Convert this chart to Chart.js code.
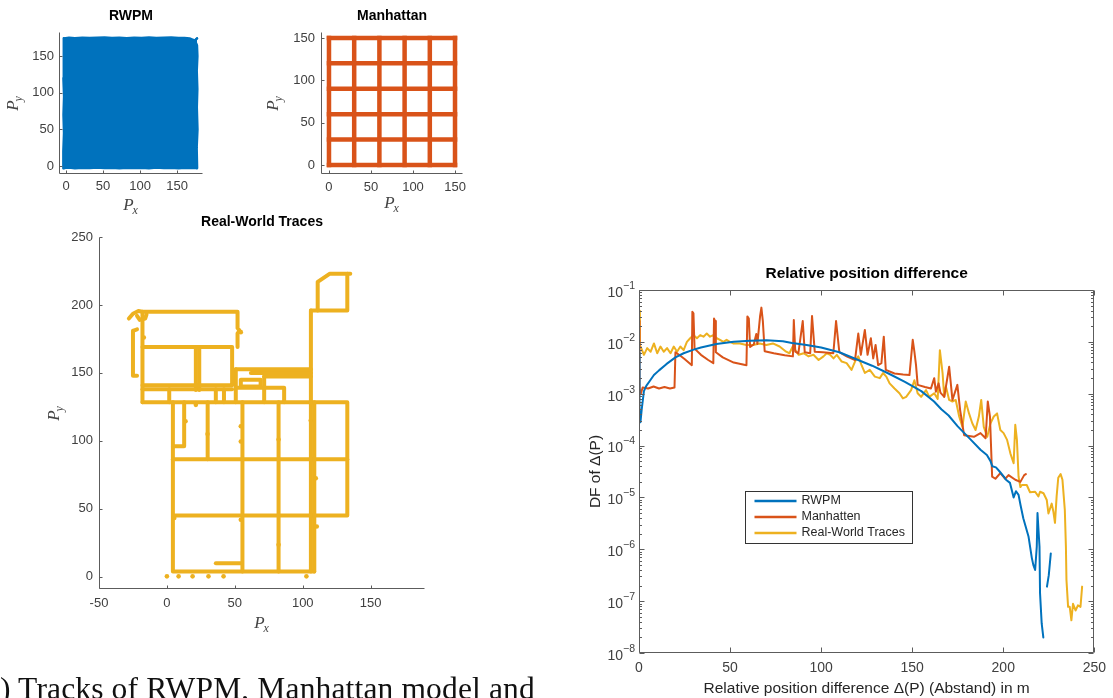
<!DOCTYPE html>
<html>
<head>
<meta charset="utf-8">
<script src="https://cdn.jsdelivr.net/npm/chart.js@4.4.1/dist/chart.umd.min.js"></script>
<style>
  html, body { margin: 0; padding: 0; background: #fff; }
  body { position: relative; width: 1113px; height: 698px; overflow: hidden; }
  canvas { position: absolute; left: 0; top: 0; }
  #cap { position: absolute; left: 0; top: 673px; font-family: "Liberation Serif", "DejaVu Serif", serif;
         font-size: 31.5px; line-height: 31px; letter-spacing: 0.15px; white-space: nowrap; color: #111; }
  #cap .lead { position: absolute; right: 100%; }
</style>
</head>
<body>
<canvas id="rwpm" width="1113" height="698"></canvas>
<canvas id="manhattan" width="1113" height="698"></canvas>
<canvas id="traces" width="1113" height="698"></canvas>
<canvas id="df" width="1113" height="698"></canvas>
<div id="cap"><span class="lead">(a</span>) Tracks of RWPM, Manhattan model and</div>
<script>
// ---------- colours ----------
const BLUE = '#0072BD', ORANGE = '#D95319', GOLD = '#EDB120';
const AXIS_COLOR = '#5c5c5c', LABEL_COLOR = '#404040';

// ---------- RWPM footprint (outline of the covered area) ----------
const rwpmEdgeX   = [-3, 4, 12, 22, 32, 42, 52, 62, 72, 82, 92, 102, 112, 122, 132, 142, 152, 160, 167, 171, 174, 177];
const rwpmTopY    = [174.6, 175.4, 174.8, 175.6, 175.1, 175.5, 175.9, 175.2, 175.6, 174.9, 175.4, 175.2, 175.8, 175.0, 175.4, 175.7, 175.0, 175.3, 174.5, 173.0, 171.5, 174.4];
const rwpmBottomY = [-3.0, -2.5, -3.4, -2.8, -3.2, -2.6, -3.3, -2.9, -3.5, -2.7, -3.2, -2.9, -3.4, -2.6, -3.3, -2.8, -3.4, -2.9, -3.1, -2.7, -3.2, -3.0];
const rwpmLeftEdge  = [[-3, -3], [-3.6, 20], [-2.7, 45], [-3.4, 70], [-2.6, 95], [-3.5, 120], [-2.8, 150], [-3.2, 174.6]];
const rwpmRightEdge = [[177, -3], [176.4, 25], [177.5, 50], [176.6, 80], [177.3, 105], [176.5, 130], [177.4, 150], [176.8, 165], [174, 171.5], [177, 174.4]];
const rwpmTicks = [0, 50, 100, 150];

// ---------- Manhattan street grid ----------
const manhattanStreets = [0, 30, 60, 90, 120, 150];
const manhattanTicks = [0, 50, 100, 150];

// ---------- real-world traces ----------
const traceTicksX = [-50, 0, 50, 100, 150];
const traceTicksY = [0, 50, 100, 150, 200, 250];
const tracePaths = [
  [[-28, 190], [-25, 193.5], [-21, 195.5], [-18, 195], [52, 195], [52, 183], [53.5, 181], [52, 179], [52, 169]],
  [[-22, 192], [-20, 189], [-16, 190], [-15, 193]],
  [[-18, 195], [-18, 128.5]],
  [[-18, 169], [48, 169], [48, 141], [-18, 141]],
  [[21.3, 169], [21.3, 137.5]],
  [[23.8, 169], [23.8, 137.5]],
  [[-18, 138], [48, 138]],
  [[50.7, 139], [86.3, 139], [86.3, 128.5]],
  [[-22, 182], [-25, 181], [-25, 148], [-22, 148]],
  [[50.7, 152.7], [106, 152.7]],
  [[61.8, 150], [106, 150]],
  [[71.6, 147.3], [106, 147.3]],
  [[50.7, 152.7], [50.7, 128.5]],
  [[71.6, 147.3], [71.6, 128.5]],
  [[54.4, 140], [54.4, 145], [69, 145], [69, 140], [54.4, 140]],
  [[1.7, 138], [1.7, 128.5]],
  [[36, 138], [36, 128.5]],
  [[42, 138], [42, 128.5]],
  [[106, 196], [111, 196], [111, 217], [120, 223], [135, 223]],
  [[132.8, 223], [132.8, 196], [111, 196]],
  [[106, 196], [106, 3.9]],
  [[108.5, 128.5], [108.5, 3.9]],
  [[-18, 128.5], [132.8, 128.5], [132.8, 45], [4.4, 45]],
  [[4.4, 86.5], [132.8, 86.5]],
  [[4.4, 128.5], [4.4, 3.9], [108.5, 3.9]],
  [[12.7, 128.5], [12.7, 96], [4.4, 96]],
  [[30, 128.5], [30, 86.5]],
  [[55.6, 128.5], [55.6, 3.9]],
  [[82.2, 128.5], [82.2, 3.9]],
  [[36, 10], [55, 10]]
];
const traceSpots = [[0, 0.3], [8.6, 0.3], [18.9, 0.3], [30.6, 0.3], [41.7, 0.3], [102.7, 0.3],
  [29.9, 105], [82.2, 101], [54.4, 99.5], [82.2, 23.5], [109.6, 72.5], [110.3, 37], [5.4, 43.2],
  [54.4, 41.9], [105.9, 115], [13.7, 114.4], [54.4, 110.8], [21.3, 126.5], [54.4, 180], [-17, 176]];

// ---------- distribution of the relative position difference: [Δ(P) in m, log10 DF] ----------
const deltaTicks = [0, 50, 100, 150, 200, 250];
const dfTicks = [1e-8, 1e-7, 1e-6, 1e-5, 1e-4, 1e-3, 1e-2, 1e-1];
const rwpmDF = [[0,-2.2],[0.3,-3.5],[0.8,-3.55],[1.5,-3.3],[2.7,-2.95],[4,-2.85],[6,-2.75],[8.2,-2.64],[11,-2.55],[15,-2.43],
  [20,-2.3],[24.5,-2.22],[30,-2.15],[34,-2.11],[42.5,-2.04],[52,-2.0],[61,-1.98],[70,-1.97],[79,-1.99],[84,-2.02],
  [92,-2.06],[100,-2.11],[110,-2.2],[119,-2.33],[128,-2.46],[137,-2.61],[146,-2.77],[155,-2.95],[162,-3.15],[166,-3.3],
  [170,-3.42],[175,-3.63],[182,-3.88],[187.5,-4.08],[191,-4.18],[193,-4.3],[194,-4.4],[196,-4.42],[198,-4.5],[200.3,-4.6],
  [201.5,-4.66],[203.7,-4.72],[205.7,-5.0],[207,-4.88],[208.4,-4.95],[209.5,-5.15],[211,-5.4],[213.9,-5.76],[215.7,-6.17],[216.5,-6.3],
  [217.5,-6.4],[218.4,-5.95],[218.8,-5.3],[219.3,-5.6],[219.9,-5.95],[220.2,-6.85],[221.1,-7.43],[222,-7.7],[223,null],[224,-6.72],
  [225,-6.5],[226.1,-6.08]];
const manhattanDF = [[0,-1.6],[0.3,-2.9],[1,-3.0],[2,-2.88],[5,-2.9],[8,-2.86],[11,-2.9],[14,-2.87],[17,-2.9],[19.5,-2.88],
  [20,-2.2],[22,-2.25],[25,-2.33],[29,-2.45],[29.3,-1.42],[29.9,-1.45],[30.5,-2.13],[34,-2.25],[38,-2.35],[40.8,-2.41],
  [41.2,-1.55],[41.8,-1.6],[42.2,-2.2],[46,-2.3],[52,-2.4],[59,-2.45],[59.5,-1.51],[60.3,-1.55],[61,-2.1],[63,-2.05],
  [64.4,-1.85],[65,-2.04],[66.5,-1.5],[67.2,-1.34],[68,-1.6],[69,-2.18],[74,-2.22],[80,-2.26],[84.5,-2.28],[85,-1.58],
  [85.8,-2.19],[87.5,-2.22],[89.9,-1.6],[91,-2.2],[94,-2.22],[95,-1.5],[96.5,-2.19],[101,-2.2],[106.7,-2.22],[108.2,-1.6],
  [110,-2.2],[114,-2.28],[118.6,-2.35],[120.4,-1.84],[121.8,-2.25],[124,-1.77],[125.5,-2.25],[127.3,-1.93],[128.6,-2.32],[129.9,-2.06],
  [131.3,-2.45],[133.1,-2.41],[134.4,-1.9],[135.5,-2.54],[140.3,-2.61],[145,-2.63],[148.5,-2.64],[150.3,-1.96],[151.2,-2.19],[152.1,-2.45],
  [153,-2.83],[157,-2.87],[160.3,-2.9],[162.1,-2.7],[163,-2.96],[164.5,-2.8],[165.5,-2.98],[167.6,-3.06],[170.3,-2.48],[172.1,-3.12],
  [174.8,-2.83],[176.3,-3.31],[178.5,-3.8],[183.9,-3.83],[187.5,-3.76],[190.3,-3.86],[191.5,-3.15],[192.7,-3.44],[193.9,-4.6],[195.7,-4.64],
  [198.4,-4.53],[201.1,-4.64],[202.9,-4.57],[206.6,-4.66],[209.4,-4.7],[211.5,-4.57],[212.4,-4.55]];
const tracesDF = [[0,-1.4],[0.5,-2.1],[0.9,-2.09],[2.7,-2.25],[4.5,-2.12],[6.4,-2.19],[8.2,-2.03],[10,-2.22],[11.8,-2.09],[13.6,-2.19],
  [15.4,-2.12],[17.3,-2.22],[19.1,-2.09],[20.9,-2.19],[22.7,-2.09],[24.5,-2.16],[26.3,-2.0],[28.1,-1.93],[30,-1.87],[31.8,-1.93],
  [33.6,-1.87],[35.4,-1.9],[37.2,-1.84],[39,-1.9],[40.8,-1.87],[42.7,-1.93],[44.5,-1.96],[46.3,-2.0],[48.1,-1.96],[49.9,-2.0],
  [51.7,-2.03],[55.4,-2.03],[59,-2.06],[62.6,-2.06],[66.3,-2.03],[69.9,-2.06],[73.5,-2.03],[77.2,-2.09],[80.8,-2.19],[82.6,-2.22],
  [84.4,-2.09],[87.7,-2.25],[90.4,-2.22],[93.1,-2.28],[95.8,-2.25],[98.6,-2.35],[101.3,-2.28],[103.1,-2.22],[105,-2.25],[106.8,-2.32],
  [108.6,-2.25],[111.3,-2.38],[114,-2.41],[116.7,-2.54],[118.6,-2.38],[120.4,-2.28],[122.2,-2.45],[124,-2.6],[126.7,-2.54],[129.5,-2.67],
  [132.2,-2.7],[134,-2.6],[135.8,-2.67],[137.6,-2.8],[140.3,-2.9],[143,-2.99],[144.9,-3.09],[146.7,-3.06],[149.4,-2.93],[151.2,-2.74],
  [153,-2.99],[154.9,-3.06],[157.6,-2.93],[159.4,-3.06],[162.1,-2.99],[164,-3.1],[165.2,-2.16],[166.7,-2.61],[167.6,-3.06],[168.5,-2.86],
  [170.3,-3.12],[172.1,-3.15],[173.9,-3.12],[175.8,-3.44],[177.6,-3.64],[179.4,-3.15],[181.2,-3.38],[183,-3.57],[184.8,-3.7],[186.6,-3.44],
  [187.9,-3.12],[189.3,-3.64],[191.2,-3.83],[193,-3.57],[194.8,-3.44],[196.6,-3.38],[198.4,-3.7],[200.2,-3.76],[202.1,-3.89],[203.9,-4.15],
  [205.7,-4.34],[206.6,-3.6],[207.5,-3.89],[208.4,-4.6],[209.4,-4.8],[210.2,-4.76],[212.9,-4.76],[214.7,-4.9],[217.5,-4.89],[219.3,-4.98],
  [220.2,-4.89],[222.1,-4.92],[223.9,-5.05],[224.8,-5.31],[226.6,-5.12],[227.5,-5.27],[228.4,-5.49],[229.3,-4.98],[230.2,-4.62],[231.5,-4.55],
  [232.5,-4.66],[233.8,-5.24],[234.4,-5.95],[234.7,-6.59],[235.6,-7.11],[236.5,-7.11],[237.4,-7.37],[238.3,-7.05],[239.7,-7.18],[241,-7.08],
  [242.4,-7.11],[243.3,-6.72]];

// ---------- shared setup ----------
Chart.defaults.font.family = '"Liberation Sans", Arial, Helvetica, sans-serif';
Chart.defaults.color = LABEL_COLOR;
Chart.defaults.animation = false;

const SANS = '"Liberation Sans", Arial, sans-serif';
const SERIF = '"Liberation Serif", "Times New Roman", serif';
const Y_SCALE_W = 40, X_SCALE_H = 30;

function areaPadding(left, top, right, bottom) {
  return { left: left - Y_SCALE_W, top: top, right: 1113 - right, bottom: 698 - bottom - X_SCALE_H };
}

function axis(type, min, max, ticks, opts) {
  const isX = opts.isX;
  return {
    type, min, max,
    grid: { display: false, drawTicks: false },
    border: { display: false },
    ticks: {
      display: opts.showLabels !== false, autoSkip: false, maxRotation: 0, minRotation: 0,
      padding: opts.pad, color: LABEL_COLOR, font: { size: opts.size }
    },
    afterBuildTicks: s => { s.ticks = ticks.map(v => ({ value: v })); },
    afterFit: s => { if (isX) s.height = X_SCALE_H; else s.width = Y_SCALE_W; }
  };
}

function pts(pairs) { return pairs.map(([x, y]) => ({ x, y })); }
function logPts(pairs) { return pairs.map(([x, l]) => ({ x, y: l === null ? null : Math.pow(10, l) })); }

// italic P with a subscript, optionally rotated
function drawPSub(ctx, cx, cy, sub, rotated) {
  ctx.save();
  ctx.translate(cx, cy);
  if (rotated) ctx.rotate(-Math.PI / 2);
  ctx.fillStyle = '#444';
  ctx.textBaseline = 'alphabetic';
  ctx.textAlign = 'left';
  ctx.font = 'italic 17px ' + SERIF;
  const wP = ctx.measureText('P').width;
  ctx.font = 'italic 12px ' + SERIF;
  const wS = ctx.measureText(sub).width;
  const x0 = -(wP + wS) / 2;
  ctx.font = 'italic 17px ' + SERIF;
  ctx.fillText('P', x0, 5.5);
  ctx.font = 'italic 12px ' + SERIF;
  ctx.fillText(sub, x0 + wP - 1, 9.5);
  ctx.restore();
}

// axes lines, inward ticks, titles, axis labels and legend
const decorPlugin = {
  id: 'decor',
  afterDraw(chart, _args, o) {
    const { ctx, chartArea: a } = chart;
    const xs = chart.scales.x, ys = chart.scales.y;
    const L = Math.round(a.left) + 0.5, B = Math.round(a.bottom) - 0.5;
    const T = Math.round(a.top) + 0.5, R = Math.round(a.right) - 0.5;
    ctx.save();
    ctx.strokeStyle = AXIS_COLOR;
    ctx.lineWidth = 1;
    ctx.beginPath();
    ctx.moveTo(L, T); ctx.lineTo(L, B); ctx.lineTo(R, B);
    if (o.box) { ctx.lineTo(R, T); ctx.lineTo(L, T); }
    xs.ticks.forEach(t => {
      const p = Math.round(xs.getPixelForValue(t.value)) + 0.5;
      ctx.moveTo(p, B); ctx.lineTo(p, B - o.tickLen);
      if (o.box) { ctx.moveTo(p, T); ctx.lineTo(p, T + o.tickLen); }
    });
    ys.ticks.forEach(t => {
      const p = Math.round(ys.getPixelForValue(t.value)) + 0.5;
      ctx.moveTo(L, p); ctx.lineTo(L + o.tickLen, p);
      if (o.box) { ctx.moveTo(R, p); ctx.lineTo(R - o.tickLen, p); }
    });
    if (o.minorLog) {
      for (let e = -8; e < -1; e++) {
        for (let k = 2; k <= 9; k++) {
          const p = Math.round(ys.getPixelForValue(k * Math.pow(10, e))) + 0.5;
          ctx.moveTo(L, p); ctx.lineTo(L + o.minorLen, p);
          ctx.moveTo(R, p); ctx.lineTo(R - o.minorLen, p);
        }
      }
    }
    ctx.stroke();

    // decade labels with superscript exponents
    if (o.logLabels) {
      ys.ticks.forEach(t => {
        const p = ys.getPixelForValue(t.value);
        const e = Math.round(Math.log10(t.value));
        const expTxt = (e < 0 ? '\u2212' : '') + Math.abs(e);
        const xr = a.left - 4;
        ctx.fillStyle = LABEL_COLOR;
        ctx.textBaseline = 'middle';
        ctx.font = '10.5px ' + SANS;
        const we = ctx.measureText(expTxt).width;
        ctx.textAlign = 'left';
        ctx.fillText(expTxt, xr - we, p - 4);
        ctx.font = '14px ' + SANS;
        ctx.textAlign = 'right';
        ctx.fillText('10', xr - we, p + 3);
      });
    }

    // title
    const cx = (a.left + a.right) / 2, cy = (a.top + a.bottom) / 2;
    ctx.fillStyle = '#000';
    ctx.textAlign = 'center';
    ctx.textBaseline = 'middle';
    ctx.font = o.titleFont;
    ctx.fillText(o.title, cx, a.top - o.titleGap);

    // axis labels
    if (o.pLabels) {
      drawPSub(ctx, cx, a.bottom + o.xLabelGap, 'x', false);
      drawPSub(ctx, a.left - o.yLabelGap, cy, 'y', true);
    } else {
      ctx.fillStyle = '#262626';
      ctx.font = o.labelFont;
      ctx.fillText(o.xLabel, cx, a.bottom + o.xLabelGap);
      ctx.save();
      ctx.translate(a.left - o.yLabelGap, cy);
      ctx.rotate(-Math.PI / 2);
      ctx.fillText(o.yLabel, 0, 0);
      ctx.restore();
    }

    // legend box
    if (o.legend) {
      const lg = o.legend;
      const lx = Math.round(a.left + lg.dx) + 0.5, ly = Math.round(a.top + lg.dy) + 0.5;
      ctx.fillStyle = '#fff';
      ctx.fillRect(lx, ly, lg.w, lg.h);
      ctx.strokeStyle = '#333';
      ctx.lineWidth = 1;
      ctx.strokeRect(lx, ly, lg.w, lg.h);
      const items = chart.data.datasets.filter(d => d.inLegend);
      items.forEach((d, i) => {
        const yy = ly + 9.5 + i * 16;
        ctx.strokeStyle = d.borderColor;
        ctx.lineWidth = 2.5;
        ctx.beginPath();
        ctx.moveTo(lx + 9, yy); ctx.lineTo(lx + 51, yy);
        ctx.stroke();
        ctx.fillStyle = '#262626';
        ctx.font = '12.5px ' + SANS;
        ctx.textAlign = 'left';
        ctx.textBaseline = 'middle';
        ctx.fillText(d.label, lx + 56, yy);
      });
    }
    ctx.restore();
  }
};

function lineDs(data, color, width, extra) {
  return Object.assign({
    data, borderColor: color, backgroundColor: color, borderWidth: width,
    pointRadius: 0, pointHoverRadius: 0, fill: false, tension: 0,
    borderJoinStyle: 'round', borderCapStyle: 'round'
  }, extra || {});
}

const smallPlugins = (title, titleGap, xGap, yGap) => ({
  legend: { display: false }, tooltip: { enabled: false },
  decor: { title, titleGap, titleFont: 'bold 14px ' + SANS, tickLen: 3, box: false,
           pLabels: true, xLabelGap: xGap, yLabelGap: yGap }
});

// ---------- RWPM ----------
new Chart(document.getElementById('rwpm'), {
  type: 'line',
  data: {
    datasets: [
      lineDs(pts(rwpmEdgeX.map((x, i) => [x, rwpmBottomY[i]])), BLUE, 2),
      lineDs(pts(rwpmEdgeX.map((x, i) => [x, rwpmTopY[i]])), BLUE, 2, { fill: '-1' }),
      lineDs(pts(rwpmLeftEdge), BLUE, 2.5),
      lineDs(pts(rwpmRightEdge), BLUE, 2.5)
    ]
  },
  options: {
    responsive: false, events: [],
    layout: { padding: areaPadding(59, 32, 203, 174) },
    scales: {
      x: axis('linear', -9.5, 185, rwpmTicks, { isX: true, pad: 4.5, size: 13 }),
      y: axis('linear', -11, 183, rwpmTicks, { isX: false, pad: 5, size: 13 })
    },
    plugins: smallPlugins('RWPM', 16, 30, 47)
  },
  plugins: [decorPlugin]
});

// ---------- Manhattan ----------
const streetSets = [];
manhattanStreets.forEach(s => {
  streetSets.push(lineDs([{ x: s, y: 0 }, { x: s, y: 150 }], ORANGE, 4.5, { borderCapStyle: 'square' }));
  streetSets.push(lineDs([{ x: 0, y: s }, { x: 150, y: s }], ORANGE, 4.5, { borderCapStyle: 'square' }));
});
new Chart(document.getElementById('manhattan'), {
  type: 'line',
  data: { datasets: streetSets },
  options: {
    responsive: false, events: [],
    layout: { padding: areaPadding(321, 32, 463, 174) },
    scales: {
      x: axis('linear', -9.5, 159.5, manhattanTicks, { isX: true, pad: 6, size: 13 }),
      y: axis('linear', -10.6, 157, manhattanTicks, { isX: false, pad: 6, size: 13 })
    },
    plugins: smallPlugins('Manhattan', 16, 28, 49)
  },
  plugins: [decorPlugin]
});

// ---------- Real-World Traces ----------
const traceSets = tracePaths.map(p => lineDs(pts(p), GOLD, 4));
traceSets.push(lineDs(pts(traceSpots), GOLD, 0, { showLine: false, pointRadius: 2.3, pointBorderWidth: 0 }));
new Chart(document.getElementById('traces'), {
  type: 'line',
  data: { datasets: traceSets },
  options: {
    responsive: false, events: [],
    layout: { padding: areaPadding(99, 237, 425, 589) },
    scales: {
      x: axis('linear', -50, 190, traceTicksX, { isX: true, pad: 7, size: 13 }),
      y: axis('linear', -9, 250, traceTicksY, { isX: false, pad: 6, size: 13 })
    },
    plugins: smallPlugins('Real-World Traces', 15, 33, 46)
  },
  plugins: [decorPlugin]
});

// ---------- Relative position difference ----------
new Chart(document.getElementById('df'), {
  type: 'line',
  data: {
    datasets: [
      lineDs(logPts(rwpmDF), BLUE, 2, { label: 'RWPM', inLegend: true, spanGaps: false }),
      lineDs(logPts(manhattanDF), ORANGE, 2, { label: 'Manhatten', inLegend: true }),
      lineDs(logPts(tracesDF), GOLD, 2, { label: 'Real-World Traces', inLegend: true })
    ]
  },
  options: {
    responsive: false, events: [],
    layout: { padding: areaPadding(639, 290, 1097, 653) },
    scales: {
      x: axis('linear', 0, 250, deltaTicks, { isX: true, pad: 7, size: 14 }),
      y: axis('logarithmic', 1e-8, 1e-1, dfTicks, { isX: false, pad: 4, size: 14, showLabels: false })
    },
    plugins: {
      legend: { display: false }, tooltip: { enabled: false },
      decor: {
        title: 'Relative position difference', titleGap: 16.5, titleFont: 'bold 15.5px ' + SANS,
        tickLen: 5, minorLen: 2.5, box: true, minorLog: true, logLabels: true,
        pLabels: false, labelFont: '15.5px ' + SANS,
        xLabel: 'Relative position difference \u0394(P) (Abstand) in m', xLabelGap: 36,
        yLabel: 'DF of \u0394(P)', yLabelGap: 43,
        legend: { dx: 106, dy: 201, w: 167, h: 52 }
      }
    }
  },
  plugins: [decorPlugin]
});
</script>
</body>
</html>
